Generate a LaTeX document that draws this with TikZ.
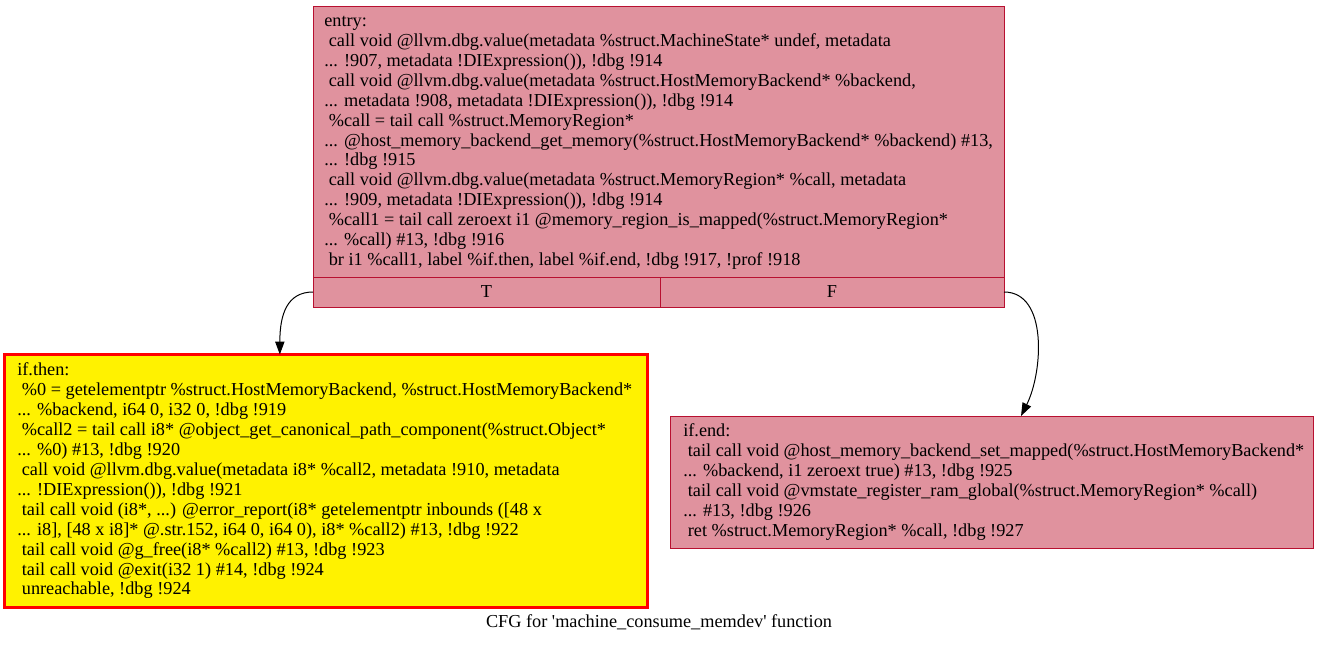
\documentclass[tikz,border=0pt]{standalone}
\usepackage{fontspec}
\setmainfont{Liberation Serif}
\usetikzlibrary{arrows.meta,calc}
\definecolor{pinkfill}{RGB}{224,146,158}
\definecolor{pinkborder}{RGB}{184,16,48}
\newcommand\cfgsize{\fontsize{13.7pt}{14.93pt}\selectfont}
\newcommand\ld{\hspace*{0.25em}}
\newcommand\sq{\XeTeXglyph\XeTeXcharglyph"27\relax}
\tikzset{
  block/.style={draw=pinkborder,fill=pinkfill,line width=0.75pt,anchor=north west,inner sep=0pt,outer sep=0pt},
  hotblock/.style={draw=red,fill=yellow,line width=2.25pt,anchor=north west,inner sep=0pt,outer sep=0pt},
  codetext/.style={inner sep=0pt,align=left,font=\cfgsize,anchor=west},
  portlabel/.style={inner sep=0pt,font=\cfgsize},
  edge/.style={draw=black,line width=0.75pt,-{Triangle[length=9.75pt,width=7pt]}}
}
\begin{document}
\begin{tikzpicture}[x=0.75pt,y=-0.75pt]
\useasboundingbox (0,0) rectangle (1319,644);
% entry block
\node[block,minimum width=518.25pt,minimum height=203.25pt] (entry) at (313,6) {};
\node[block,minimum width=260.25pt,minimum height=22.5pt] (entryT) at (313,277) {};
\node[block,minimum width=258pt,minimum height=22.5pt] (entryF) at (660,277) {};
\node[portlabel] (labT) at (entryT.center) {T};
\node[portlabel] (labF) at (entryF.center) {F};
\node[codetext] (entrytxt) at ([xshift=8.25pt,yshift=-1pt]entry.west) {entry:\\
\ld call void @llvm.dbg.value(metadata \%struct.MachineState* undef, metadata\\
... !907, metadata !DIExpression()), !dbg !914\\
\ld call void @llvm.dbg.value(metadata \%struct.HostMemoryBackend* \%backend,\\
... metadata !908, metadata !DIExpression()), !dbg !914\\
\ld \%call = tail call \%struct.MemoryRegion*\\
... @host\_memory\_backend\_get\_memory(\%struct.HostMemoryBackend* \%backend) \#13,\\
... !dbg !915\\
\ld call void @llvm.dbg.value(metadata \%struct.MemoryRegion* \%call, metadata\\
... !909, metadata !DIExpression()), !dbg !914\\
\ld \%call1 = tail call zeroext i1 @memory\_region\_is\_mapped(\%struct.MemoryRegion*\\
... \%call) \#13, !dbg !916\\
\ld br i1 \%call1, label \%if.then, label \%if.end, !dbg !917, !prof !918};
% if.then block
\node[hotblock,minimum width=482.25pt,minimum height=189.75pt] (ifthen) at (4.5,354.5) {};
\node[codetext] (ifthentxt) at ([xshift=9.4pt]ifthen.west) {if.then:\\
\ld \%0 = getelementptr \%struct.HostMemoryBackend, \%struct.HostMemoryBackend*\\
... \%backend, i64 0, i32 0, !dbg !919\\
\ld \%call2 = tail call i8* @object\_get\_canonical\_path\_component(\%struct.Object*\\
... \%0) \#13, !dbg !920\\
\ld call void @llvm.dbg.value(metadata i8* \%call2, metadata !910, metadata\\
... !DIExpression()), !dbg !921\\
\ld tail call void (i8*, ...) @error\_report(i8* getelementptr inbounds ([48 x\\
... i8], [48 x i8]* @.str.152, i64 0, i64 0), i8* \%call2) \#13, !dbg !922\\
\ld tail call void @g\_free(i8* \%call2) \#13, !dbg !923\\
\ld tail call void @exit(i32 1) \#14, !dbg !924\\
\ld unreachable, !dbg !924};
% if.end block
\node[block,minimum width=482.25pt,minimum height=99pt] (ifend) at (670,416) {};
\node[codetext] (ifendtxt) at ([xshift=9.75pt]ifend.west) {if.end:\\
\ld tail call void @host\_memory\_backend\_set\_mapped(\%struct.HostMemoryBackend*\\
... \%backend, i1 zeroext true) \#13, !dbg !925\\
\ld tail call void @vmstate\_register\_ram\_global(\%struct.MemoryRegion* \%call)\\
... \#13, !dbg !926\\
\ld ret \%struct.MemoryRegion* \%call, !dbg !927};
% edges
\coordinate (tipT) at ([xshift=206.5pt]ifthen.north west);
\coordinate (tipF) at ([xshift=263.25pt]ifend.north west);
\draw[edge] (entryT.west) .. controls +(-26,0) and +(0,-40) .. (tipT);
\draw[edge] (entryF.east) .. controls +(44,0) and +(22,-44) .. (tipF);
% caption
\node[portlabel] (caption) at (659,622) {CFG for \sq machine\_consume\_memdev\sq{} function};
\end{tikzpicture}
\end{document}
